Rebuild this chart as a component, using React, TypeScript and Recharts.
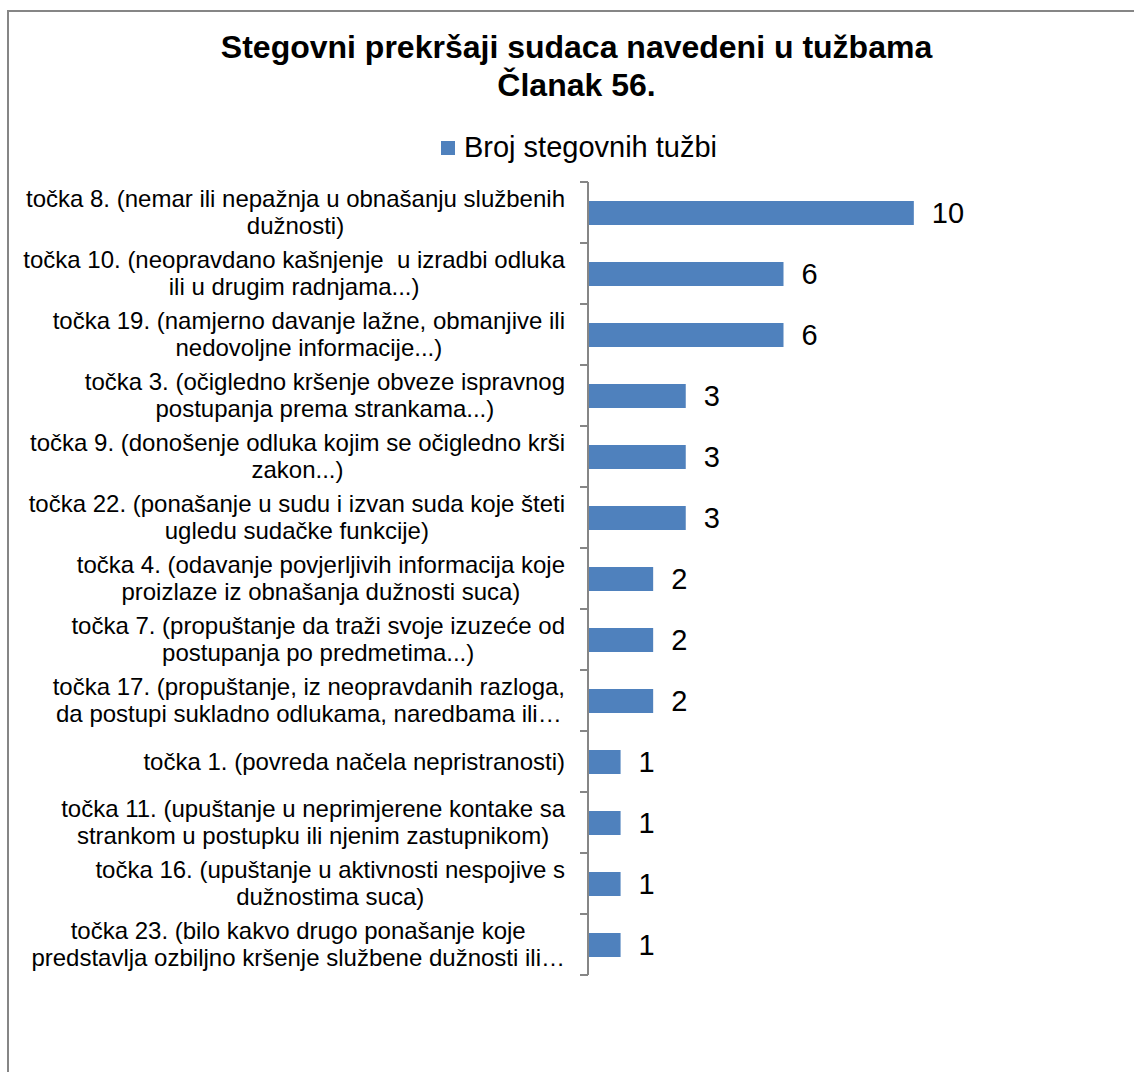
import React from "react";
import { BarChart, Bar, XAxis, YAxis, LabelList } from "recharts";

const categories = [
  "točka 8. (nemar ili nepažnja u obnašanju službenih\ndužnosti)",
  "točka 10. (neopravdano kašnjenje  u izradbi odluka\nili u drugim radnjama...)",
  "točka 19. (namjerno davanje lažne, obmanjive ili\nnedovoljne informacije...)",
  "točka 3. (očigledno kršenje obveze ispravnog\npostupanja prema strankama...)",
  "točka 9. (donošenje odluka kojim se očigledno krši\nzakon...)",
  "točka 22. (ponašanje u sudu i izvan suda koje šteti\nugledu sudačke funkcije)",
  "točka 4. (odavanje povjerljivih informacija koje\nproizlaze iz obnašanja dužnosti suca)",
  "točka 7. (propuštanje da traži svoje izuzeće od\npostupanja po predmetima...)",
  "točka 17. (propuštanje, iz neopravdanih razloga,\nda postupi sukladno odlukama, naredbama ili…",
  "točka 1. (povreda načela nepristranosti)",
  "točka 11. (upuštanje u neprimjerene kontake sa\nstrankom u postupku ili njenim zastupnikom)",
  "točka 16. (upuštanje u aktivnosti nespojive s\ndužnostima suca)",
  "točka 23. (bilo kakvo drugo ponašanje koje\npredstavlja ozbiljno kršenje službene dužnosti ili…",
];
const brojTuzbi = [10, 6, 6, 3, 3, 3, 2, 2, 2, 1, 1, 1, 1];
const seriesName = "Broj stegovnih tužbi";
const titleLines = ["Stegovni prekršaji sudaca navedeni u tužbama", "Članak 56."];

const data = categories.map((name, i) => ({ name, value: brojTuzbi[i] }));

const FONT = "'Liberation Sans', Arial, sans-serif";
const LABEL_SIZE = 24;
const LINE_H = 27;
const AXIS_X = 588;
const LABEL_RIGHT = 565;
const PLOT_TOP = 182;
const PLOT_BOTTOM = 975;
const BAND = (PLOT_BOTTOM - PLOT_TOP) / categories.length;
const GRAY = "#868686";
const BLUE = "#4F81BD";

let ctx: CanvasRenderingContext2D | null = null;
function measure(text: string) {
  if (!ctx) {
    ctx = document.createElement("canvas").getContext("2d");
  }
  if (!ctx) return text.length * LABEL_SIZE * 0.5;
  ctx.font = `${LABEL_SIZE}px 'Liberation Sans'`;
  return ctx.measureText(text).width;
}

function CategoryTick(props: any) {
  const { y, payload, index } = props;
  const lines = String(payload.value).split("\n");
  const widest = Math.max(...lines.map(measure));
  const cx = LABEL_RIGHT - widest / 2;
  const first = y - ((lines.length - 1) * LINE_H) / 2;
  return (
    <g>
      <line x1={AXIS_X - 8} x2={AXIS_X} y1={y - BAND / 2} y2={y - BAND / 2} stroke={GRAY} strokeWidth={2} />
      {index === categories.length - 1 && (
        <line x1={AXIS_X - 8} x2={AXIS_X} y1={y + BAND / 2} y2={y + BAND / 2} stroke={GRAY} strokeWidth={2} />
      )}
      <text
        textAnchor="middle"
        fontFamily={FONT}
        fontSize={LABEL_SIZE}
        fill="#000"
        style={{ whiteSpace: "pre" }}
      >
        {lines.map((l, i) => (
          <tspan key={i} x={cx} y={first + i * LINE_H} dy="0.35em">
            {l}
          </tspan>
        ))}
      </text>
    </g>
  );
}

export default function App() {
  return (
    <div style={{ position: "fixed", left: 0, top: 0, width: 1134, height: 1072, overflow: "hidden", background: "#fff" }}>
      <div
        style={{
          position: "absolute",
          left: 7,
          top: 10,
          width: 1200,
          height: 1200,
          border: `2px solid ${GRAY}`,
        }}
      />
      <div
        style={{
          position: "absolute",
          left: 0,
          width: 1153,
          top: 28,
          textAlign: "center",
          fontFamily: FONT,
          fontWeight: "bold",
          fontSize: 32,
          lineHeight: "38px",
          color: "#000",
        }}
      >
        {titleLines.map((t) => (
          <div key={t}>{t}</div>
        ))}
      </div>
      <div
        style={{
          position: "absolute",
          left: 0,
          width: 1158,
          top: 131,
          display: "flex",
          justifyContent: "center",
          alignItems: "center",
          fontFamily: FONT,
        }}
      >
        <span style={{ width: 14, height: 14, background: BLUE, marginRight: 9, display: "inline-block" }} />
        <span style={{ fontSize: 29, color: "#000" }}>{seriesName}</span>
      </div>
      <div style={{ position: "absolute", left: 0, top: 0 }}>
        <BarChart
          width={1134}
          height={1072}
          data={data}
          layout="vertical"
          margin={{ top: PLOT_TOP, right: 155, bottom: 1072 - PLOT_BOTTOM, left: 0 }}
        >
          <XAxis type="number" domain={[0, 12]} hide />
          <YAxis
            type="category"
            dataKey="name"
            width={AXIS_X}
            interval={0}
            tickLine={false}
            axisLine={{ stroke: GRAY, strokeWidth: 2 }}
            tick={<CategoryTick />}
          />
          <Bar dataKey="value" name={seriesName} fill={BLUE} barSize={24} isAnimationActive={false}>
            <LabelList
              dataKey="value"
              position="right"
              offset={18}
              fill="#000"
              fontSize={29}
              fontFamily={FONT}
            />
          </Bar>
        </BarChart>
      </div>
    </div>
  );
}
